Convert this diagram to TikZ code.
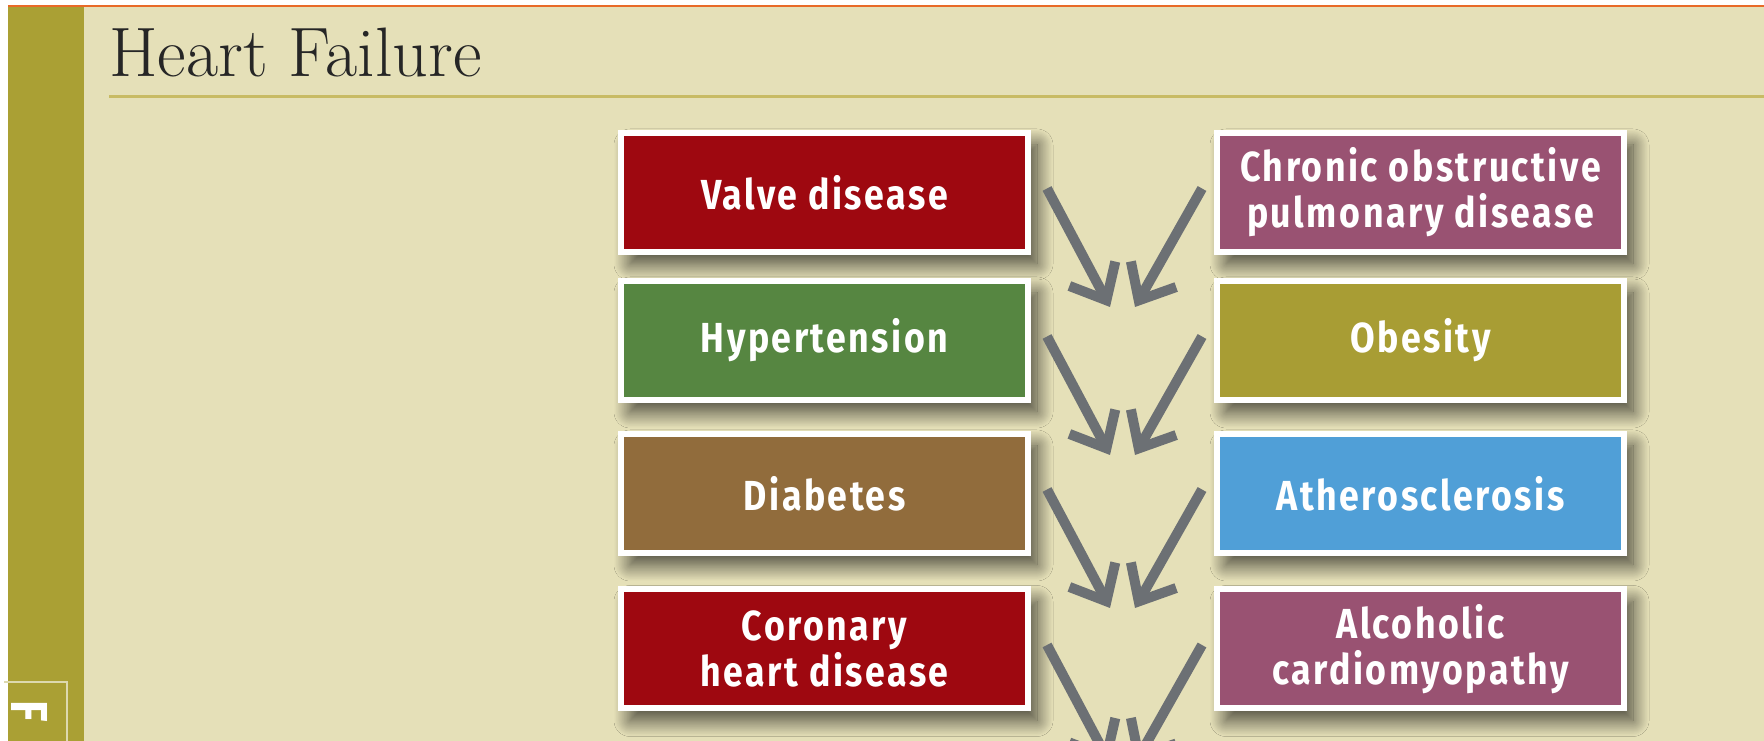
\documentclass[tikz,border=0pt]{standalone}
\usepackage{fontspec}
\usepackage{tikz}
\usetikzlibrary{arrows.meta, positioning, calc, shadows, shadows.blur}
\newfontfamily\boxfont[FakeStretch=0.85,LetterSpace=6]{Fira Sans}

\begin{document}
\begin{tikzpicture}[x=1pt, y=1pt,
    cause/.style={draw=white, line width=6pt, minimum width=407pt, minimum height=119pt,
        inner sep=0pt, text=white, align=center,
        font=\boxfont\bfseries\fontsize{42}{46}\selectfont,
        blur shadow={shadow xshift=9pt, shadow yshift=-12pt, shadow blur radius=16pt,
            shadow blur steps=24, shadow opacity=70}},
    flow/.style={draw=arrow grey, line width=10pt, -{Straight Barb[length=30pt, width=52pt, sharp]}}]
        \definecolor{slide beige}{RGB}{229,224,184}
        \definecolor{olive bar}{RGB}{170,160,52}
        \definecolor{title rule}{RGB}{200,187,100}
        \definecolor{top orange}{RGB}{232,106,40}
        \definecolor{valve red}{RGB}{158,8,16}
        \definecolor{hyper green}{RGB}{86,134,65}
        \definecolor{diab brown}{RGB}{145,108,60}
        \definecolor{copd mauve}{RGB}{153,82,114}
        \definecolor{obese olive}{RGB}{168,157,52}
        \definecolor{athero blue}{RGB}{80,159,215}
        \definecolor{arrow grey}{RGB}{108,112,116}

        \useasboundingbox (0,0) rectangle (1764,741);
        \fill [white] (0,0) rectangle (1764,741);

        % slide background
        \fill [slide beige] (8,0) rectangle (1764,734);
        \fill [olive bar] (8,0) rectangle (84,734);
        \fill [top orange] (8,734) rectangle (1764,736);
        \draw [white!60!olive bar, line width=1.5pt] (4,59) -- (67,59) -- (67,-20);
        \node [rotate=-90, anchor=base west, inner sep=0pt, text=white,
            font=\boxfont\bfseries\fontsize{52}{52}\selectfont] (figmark) at (11,41) {F};

        % title
        \node [anchor=base west, inner sep=0pt, text=black!85,
            font=\fontsize{70}{76}\selectfont] (title) at (109,664) {Heart Failure};
        \draw [title rule, line width=3pt] (109,644) -- (1764,644);

        % causes
        \node [cause, fill=valve red] (valve) at (824.5,548.5) {Valve disease};
        \node [cause, fill=hyper green] (hyper) at (824.5,400.5) {Hypertension};
        \node [cause, fill=diab brown] (diab) at (824.5,247.5) {Diabetes};
        \node [cause, fill=valve red] (chd) at (824.5,92) {Coronary\\heart disease};

        \node [cause, fill=copd mauve, right=183pt of valve] (copd) {Chronic obstructive\\pulmonary disease};
        \node [cause, fill=obese olive, right=183pt of hyper] (obese) {Obesity};
        \node [cause, fill=athero blue, right=183pt of diab] (athero) {Atherosclerosis};
        \node [cause, fill=copd mauve, right=183pt of chd] (alco) {Alcoholic\\cardiomyopathy};

        \foreach \l/\r in {valve/copd, hyper/obese, diab/athero, chd/alco} {
            \coordinate (join-\l) at ($(\l.south east)!.5!(\r.south west) + (0,-52)$);
            \draw [flow] ([shift={(16,4)}]\l.east) -- ([xshift=-12.5pt]join-\l);
            \draw [flow] ([shift={(-12,4)}]\r.west) -- ([xshift=12.5pt]join-\l);
        }
    \end{tikzpicture}
\end{document}
